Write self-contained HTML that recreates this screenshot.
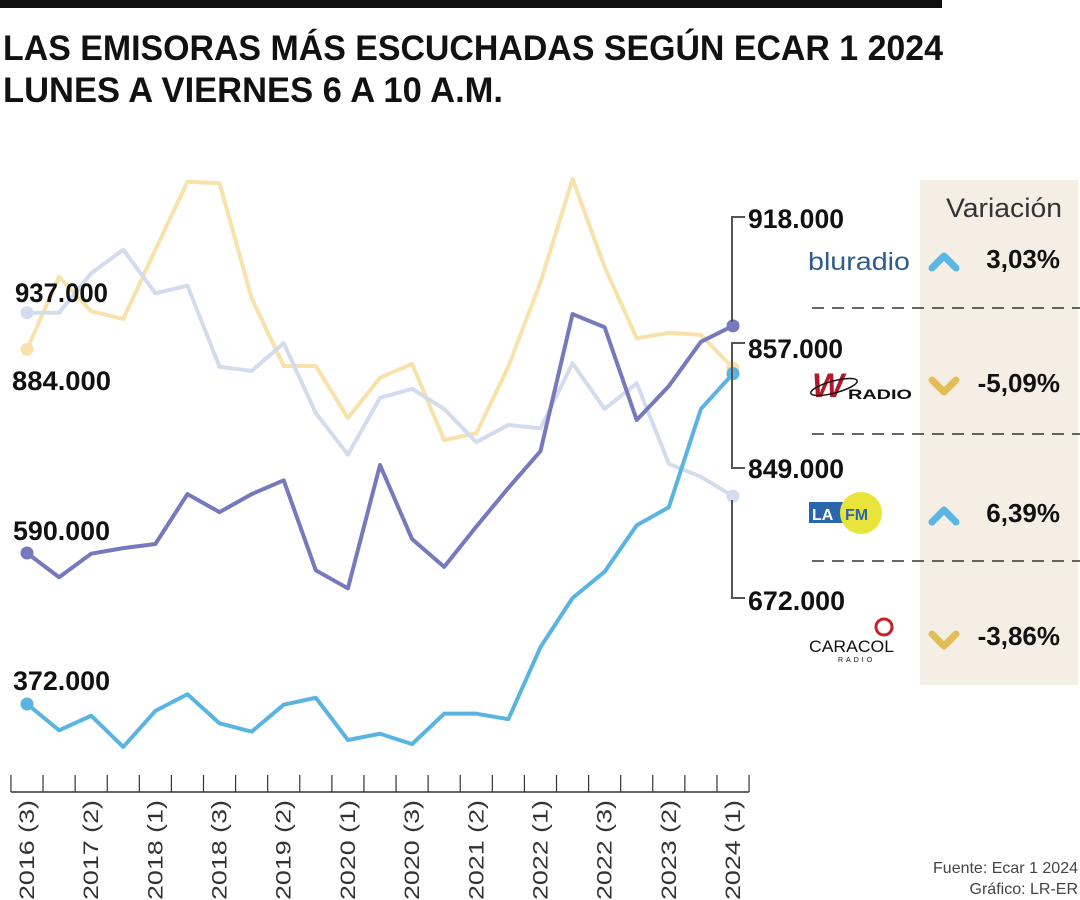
<!DOCTYPE html>
<html><head><meta charset="utf-8"><style>
html,body{margin:0;padding:0;background:#fff;width:1080px;height:900px;overflow:hidden}
svg{display:block;font-family:"Liberation Sans",sans-serif}
</style></head><body>
<svg id="chart" width="1080" height="900" viewBox="0 0 1080 900">
<rect x="0" y="0" width="942" height="8" fill="#111"/>
<text x="3" y="60" font-size="35" font-weight="bold" textLength="940" lengthAdjust="spacingAndGlyphs" fill="#111">LAS EMISORAS MÁS ESCUCHADAS SEGÚN ECAR 1 2024</text>
<text x="3" y="102" font-size="35" font-weight="bold" textLength="500" lengthAdjust="spacingAndGlyphs" fill="#111">LUNES A VIERNES 6 A 10 A.M.</text>

<rect x="920" y="180" width="158" height="505" fill="#f5eee5"/>
<text x="1062" y="217" font-size="27" fill="#333" text-anchor="end" textLength="116" lengthAdjust="spacingAndGlyphs">Variación</text>
<g stroke="#333" stroke-width="1.5" stroke-dasharray="12 8">
<line x1="812" y1="308" x2="1080" y2="308"/><line x1="812" y1="434" x2="1080" y2="434"/><line x1="812" y1="561" x2="1080" y2="561"/>
</g>

<g id="axis"></g>
<g id="lines"></g>

<g stroke="#555" stroke-width="2" fill="none">
<polyline points="745,217 732,217 732,322"/>
<polyline points="745,343 732,343 732,468 745,468"/>
<polyline points="732,500 732,598 745,598"/>
</g>

<g font-weight="bold" font-size="27" fill="#111">
<text x="15" y="302" textLength="93" lengthAdjust="spacingAndGlyphs">937.000</text>
<text x="12" y="390" textLength="99" lengthAdjust="spacingAndGlyphs">884.000</text>
<text x="13" y="540" textLength="97" lengthAdjust="spacingAndGlyphs">590.000</text>
<text x="13" y="690" textLength="97" lengthAdjust="spacingAndGlyphs">372.000</text>
<text x="748" y="228" textLength="96" lengthAdjust="spacingAndGlyphs">918.000</text>
<text x="748" y="358" textLength="95" lengthAdjust="spacingAndGlyphs">857.000</text>
<text x="748" y="478" textLength="96" lengthAdjust="spacingAndGlyphs">849.000</text>
<text x="748" y="610" textLength="97" lengthAdjust="spacingAndGlyphs">672.000</text>
</g>

<g><text x="808" y="270" font-size="25" fill="#2d5d8c" textLength="102" lengthAdjust="spacingAndGlyphs">bluradio</text></g>
<g>
<text x="812" y="397" font-size="34" font-weight="bold" fill="#b3182a" font-style="italic">W</text>
<ellipse cx="834" cy="387" rx="24" ry="6" fill="none" stroke="#111" stroke-width="1.5" transform="rotate(-15 834 387)"/>
<text x="848" y="399" font-size="14" font-weight="bold" fill="#111" textLength="64" lengthAdjust="spacingAndGlyphs">RADIO</text></g>
<g>
<rect x="809" y="502" width="50" height="21" fill="#2a66ad"/>
<circle cx="861" cy="513" r="21" fill="#e8e43a"/>
<text x="812" y="520" font-size="16" font-weight="bold" fill="#fff">LA</text>
<text x="845" y="520" font-size="16" font-weight="bold" fill="#2a66ad">FM</text></g>
<g>
<circle cx="884" cy="627" r="8" fill="none" stroke="#c8202a" stroke-width="3"/>
<text x="809" y="652" font-size="17" fill="#111" textLength="85" lengthAdjust="spacingAndGlyphs">CARACOL</text>
<text x="838" y="662" font-size="7" fill="#111" letter-spacing="3">RADIO</text></g>

<g>
<polyline points="932,268 944,256 956,268" fill="none" stroke="#5bb5e5" stroke-width="7" stroke-linecap="round" stroke-linejoin="round"/>
<polyline points="932,380 944,392 956,380" fill="none" stroke="#e3bd58" stroke-width="7" stroke-linecap="round" stroke-linejoin="round"/>
<polyline points="932,522 944,510 956,522" fill="none" stroke="#5bb5e5" stroke-width="7" stroke-linecap="round" stroke-linejoin="round"/>
<polyline points="932,634 944,646 956,634" fill="none" stroke="#e3bd58" stroke-width="7" stroke-linecap="round" stroke-linejoin="round"/>
<g font-size="26" font-weight="bold" fill="#111" text-anchor="end">
<text x="1060" y="268">3,03%</text>
<text x="1060" y="392">-5,09%</text>
<text x="1060" y="522">6,39%</text>
<text x="1060" y="645">-3,86%</text>
</g></g>

<g font-size="16" fill="#444" text-anchor="end">
<text x="1078" y="873">Fuente: Ecar 1 2024</text>
<text x="1078" y="894">Gráfico: LR-ER</text>
</g>
</svg>
<script>
const periods=["2016 (3)","2017 (1)","2017 (2)","2017 (3)","2018 (1)","2018 (2)","2018 (3)","2019 (1)","2019 (2)","2019 (3)","2020 (1)","2020 (2)","2020 (3)","2021 (1)","2021 (2)","2021 (3)","2022 (1)","2022 (2)","2022 (3)","2023 (1)","2023 (2)","2023 (3)","2024 (1)"];
const caracol=[590,555,589,597,603,675,649,675,695,565,539,717,610,570,628,684,737,935,916,782,831,895,918];
const wradio=[884,989,939,928,1028,1126,1124,958,860,860,785,843,863,753,763,859,981,1130,1003,900,908,905,857];
const lafm=[937,937,994,1028,965,976,859,853,893,792,732,814,827,798,750,775,770,864,798,835,719,700,672];
const bluradio=[372,334,355,310,362,386,344,332,371,381,320,329,314,358,358,350,454,525,563,630,656,798,849];
const NS="http://www.w3.org/2000/svg";
function xPos(i){return 27+i*(733-27)/(periods.length-1);}
function yPos(v){return 553-(v-590)/1.444;}
const axis=document.getElementById('axis');
const base=document.createElementNS(NS,'line');


const step=(733-27)/(periods.length-1);
base.setAttribute('x1',xPos(0)-step/2);base.setAttribute('x2',xPos(periods.length-1)+step/2);
base.setAttribute('y1',792);base.setAttribute('y2',792);base.setAttribute('stroke','#333');base.setAttribute('stroke-width','1.5');
axis.appendChild(base);
for(let i=0;i<=periods.length;i++){
  const t=document.createElementNS(NS,'line');
  
  
  const x=xPos(i)-step/2;
  t.setAttribute('x1',x);t.setAttribute('x2',x);t.setAttribute('y1',775);t.setAttribute('y2',792);
  t.setAttribute('stroke','#333');t.setAttribute('stroke-width','1.2');axis.appendChild(t);
}
periods.forEach((p,i)=>{
  if(i%2)return;
  const tx=document.createElementNS(NS,'text');
  
  
  const x=xPos(i)+7;
  tx.setAttribute('x',x);tx.setAttribute('y',900);
  tx.setAttribute('transform','rotate(-90 '+x+' 900)');
  tx.setAttribute('font-size','21');tx.setAttribute('fill','#333');
  tx.setAttribute('textLength','100');tx.setAttribute('lengthAdjust','spacingAndGlyphs');
  tx.textContent=p;axis.appendChild(tx);
});
const g=document.getElementById('lines');
const series=[[wradio,'#f8e1ab','wradio'],[lafm,'#d3dbef','lafm'],[caracol,'#7679bb','caracol'],[bluradio,'#5ab4e1','bluradio']];
series.forEach(([vals,col,nm])=>{
  const pl=document.createElementNS(NS,'polyline');
  
  
  pl.setAttribute('points',vals.map((v,i)=>xPos(i)+','+yPos(v)).join(' '));
  pl.setAttribute('fill','none');pl.setAttribute('stroke',col);pl.setAttribute('stroke-width','4');pl.setAttribute('stroke-linejoin','round');
  g.appendChild(pl);
  [0,vals.length-1].forEach(i=>{
    const c=document.createElementNS(NS,'circle');
    
    
    c.setAttribute('cx',xPos(i));c.setAttribute('cy',yPos(vals[i]));c.setAttribute('r',6.5);c.setAttribute('fill',col);
    g.appendChild(c);
  });
});
</script>
</body></html>
